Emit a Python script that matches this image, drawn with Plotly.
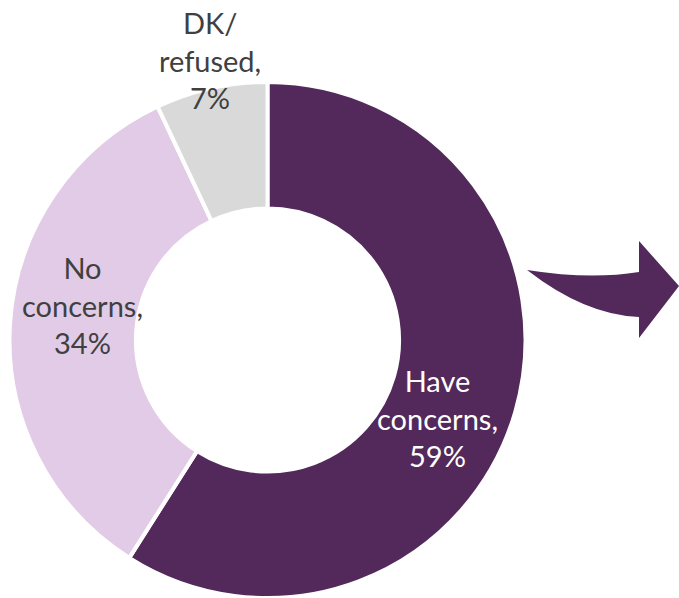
import plotly.graph_objects as go

labels = ["Have concerns", "No concerns", "DK/ refused"]
values = [59, 34, 7]
colors = ["#52295A", "#E2CBE6", "#D9D9D9"]
label_text = ["Have<br>concerns,<br>59%", "No<br>concerns,<br>34%", "DK/<br>refused,<br>7%"]
label_colors = ["#FFFFFF", "#404040", "#404040"]
label_px = [(437, 418), (82, 305), (210, 60)]

W, H = 679, 598


def px(x, y):
    return x / W, 1 - y / H


fig = go.Figure()
fig.add_trace(go.Pie(
    labels=labels,
    values=values,
    hole=0.51,
    sort=False,
    direction="clockwise",
    rotation=0,
    marker=dict(colors=colors, line=dict(color="#FFFFFF", width=4)),
    textinfo="none",
    hoverinfo="label+percent",
    showlegend=False,
    domain=dict(x=[8.5 / W, 526.5 / W], y=[0, 1 - 82 / H]),
))

for txt, col, (x, y) in zip(label_text, label_colors, label_px):
    ax, ay = px(x, y)
    fig.add_annotation(
        x=ax, y=ay, xref="paper", yref="paper",
        text=txt, showarrow=False, align="center",
        font=dict(family="Lato, Open Sans, sans-serif", size=29, color=col),
        xanchor="center", yanchor="middle",
    )

# curved arrow on the right
pts = {
    "a": (527, 270), "c1": (590, 280), "b": (639, 272),
    "h1": (639, 241), "tip": (679, 286), "h2": (639, 338),
    "d": (639, 317), "c2": (585, 315),
}
P = {k: px(*v) for k, v in pts.items()}


def f(p):
    return f"{p[0]:.5f},{p[1]:.5f}"


path = (f"M {f(P['a'])} Q {f(P['c1'])} {f(P['b'])} L {f(P['h1'])} L {f(P['tip'])} "
        f"L {f(P['h2'])} L {f(P['d'])} Q {f(P['c2'])} {f(P['a'])} Z")
fig.add_shape(type="path", path=path, xref="paper", yref="paper",
              fillcolor="#52295A", line=dict(width=0))

fig.update_layout(
    width=W, height=H,
    margin=dict(l=0, r=0, t=0, b=0),
    paper_bgcolor="#FFFFFF",
    plot_bgcolor="#FFFFFF",
)

fig.write_html("out.html")
